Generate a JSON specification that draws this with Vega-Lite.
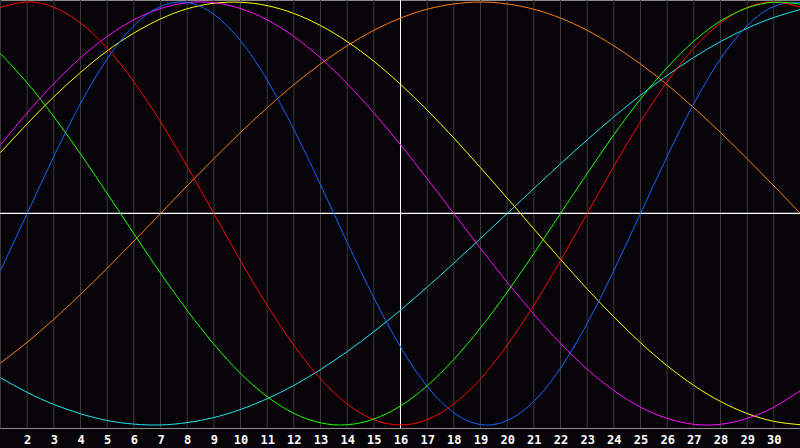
{
  "$schema": "https://vega.github.io/schema/vega-lite/v6.json",
  "width": 800,
  "height": 428,
  "autosize": "none",
  "padding": {"left": 0, "top": 0, "right": 0, "bottom": 20},
  "background": "#060409",
  "config": {
    "view": {"stroke": "#8c8c8c", "strokeWidth": 1, "fill": "#060409"}
  },
  "data": {
    "values": [
      {"d": 1, "physical": -0.270, "emotional": 0.975, "intellectual": 0.756, "intuitive": 0.325, "aesthetic": 0.288, "awareness": -0.707, "spiritual": -0.777},
      {"d": 2, "physical": 0.000, "emotional": 1.000, "intellectual": 0.618, "intuitive": 0.476, "aesthetic": 0.424, "awareness": -0.609, "spiritual": -0.846},
      {"d": 3, "physical": 0.270, "emotional": 0.975, "intellectual": 0.458, "intuitive": 0.614, "aesthetic": 0.552, "awareness": -0.500, "spiritual": -0.903},
      {"d": 4, "physical": 0.520, "emotional": 0.901, "intellectual": 0.282, "intuitive": 0.736, "aesthetic": 0.667, "awareness": -0.383, "spiritual": -0.947},
      {"d": 5, "physical": 0.731, "emotional": 0.782, "intellectual": 0.095, "intuitive": 0.837, "aesthetic": 0.769, "awareness": -0.259, "spiritual": -0.979},
      {"d": 6, "physical": 0.888, "emotional": 0.623, "intellectual": -0.095, "intuitive": 0.916, "aesthetic": 0.853, "awareness": -0.131, "spiritual": -0.996},
      {"d": 7, "physical": 0.979, "emotional": 0.434, "intellectual": -0.282, "intuitive": 0.969, "aesthetic": 0.920, "awareness": 0.000, "spiritual": -1.000},
      {"d": 8, "physical": 0.998, "emotional": 0.223, "intellectual": -0.458, "intuitive": 0.997, "aesthetic": 0.968, "awareness": 0.131, "spiritual": -0.989},
      {"d": 9, "physical": 0.942, "emotional": 0.000, "intellectual": -0.618, "intuitive": 0.997, "aesthetic": 0.994, "awareness": 0.259, "spiritual": -0.965},
      {"d": 10, "physical": 0.817, "emotional": -0.223, "intellectual": -0.756, "intuitive": 0.969, "aesthetic": 0.999, "awareness": 0.383, "spiritual": -0.927},
      {"d": 11, "physical": 0.631, "emotional": -0.434, "intellectual": -0.866, "intuitive": 0.916, "aesthetic": 0.983, "awareness": 0.500, "spiritual": -0.876},
      {"d": 12, "physical": 0.398, "emotional": -0.623, "intellectual": -0.945, "intuitive": 0.837, "aesthetic": 0.946, "awareness": 0.609, "spiritual": -0.813},
      {"d": 13, "physical": 0.136, "emotional": -0.782, "intellectual": -0.990, "intuitive": 0.736, "aesthetic": 0.889, "awareness": 0.707, "spiritual": -0.738},
      {"d": 14, "physical": -0.136, "emotional": -0.901, "intellectual": -0.999, "intuitive": 0.614, "aesthetic": 0.813, "awareness": 0.793, "spiritual": -0.653},
      {"d": 15, "physical": -0.398, "emotional": -0.975, "intellectual": -0.972, "intuitive": 0.476, "aesthetic": 0.720, "awareness": 0.866, "spiritual": -0.559},
      {"d": 16, "physical": -0.631, "emotional": -1.000, "intellectual": -0.910, "intuitive": 0.325, "aesthetic": 0.611, "awareness": 0.924, "spiritual": -0.457},
      {"d": 17, "physical": -0.817, "emotional": -0.975, "intellectual": -0.815, "intuitive": 0.165, "aesthetic": 0.489, "awareness": 0.966, "spiritual": -0.348},
      {"d": 18, "physical": -0.942, "emotional": -0.901, "intellectual": -0.690, "intuitive": 0.000, "aesthetic": 0.357, "awareness": 0.991, "spiritual": -0.235},
      {"d": 19, "physical": -0.998, "emotional": -0.782, "intellectual": -0.541, "intuitive": -0.165, "aesthetic": 0.217, "awareness": 1.000, "spiritual": -0.118},
      {"d": 20, "physical": -0.979, "emotional": -0.623, "intellectual": -0.372, "intuitive": -0.325, "aesthetic": 0.073, "awareness": 0.991, "spiritual": 0.000},
      {"d": 21, "physical": -0.888, "emotional": -0.434, "intellectual": -0.189, "intuitive": -0.476, "aesthetic": -0.073, "awareness": 0.966, "spiritual": 0.118},
      {"d": 22, "physical": -0.731, "emotional": -0.223, "intellectual": 0.000, "intuitive": -0.614, "aesthetic": -0.217, "awareness": 0.924, "spiritual": 0.235},
      {"d": 23, "physical": -0.520, "emotional": 0.000, "intellectual": 0.189, "intuitive": -0.736, "aesthetic": -0.357, "awareness": 0.866, "spiritual": 0.348},
      {"d": 24, "physical": -0.270, "emotional": 0.223, "intellectual": 0.372, "intuitive": -0.837, "aesthetic": -0.489, "awareness": 0.793, "spiritual": 0.457},
      {"d": 25, "physical": 0.000, "emotional": 0.434, "intellectual": 0.541, "intuitive": -0.916, "aesthetic": -0.611, "awareness": 0.707, "spiritual": 0.559},
      {"d": 26, "physical": 0.270, "emotional": 0.623, "intellectual": 0.690, "intuitive": -0.969, "aesthetic": -0.720, "awareness": 0.609, "spiritual": 0.653},
      {"d": 27, "physical": 0.520, "emotional": 0.782, "intellectual": 0.815, "intuitive": -0.997, "aesthetic": -0.813, "awareness": 0.500, "spiritual": 0.738},
      {"d": 28, "physical": 0.731, "emotional": 0.901, "intellectual": 0.910, "intuitive": -0.997, "aesthetic": -0.889, "awareness": 0.383, "spiritual": 0.813},
      {"d": 29, "physical": 0.888, "emotional": 0.975, "intellectual": 0.972, "intuitive": -0.969, "aesthetic": -0.946, "awareness": 0.259, "spiritual": 0.876},
      {"d": 30, "physical": 0.979, "emotional": 1.000, "intellectual": 0.999, "intuitive": -0.916, "aesthetic": -0.983, "awareness": 0.131, "spiritual": 0.927},
      {"d": 31, "physical": 0.998, "emotional": 0.975, "intellectual": 0.990, "intuitive": -0.837, "aesthetic": -0.999, "awareness": 0.000, "spiritual": 0.965}
    ]
  },
  "encoding": {
    "x": {
      "field": "d",
      "type": "quantitative",
      "scale": {"domain": [0.98125, 30.98125], "nice": false, "zero": false},
      "axis": {
        "values": [2, 3, 4, 5, 6, 7, 8, 9, 10, 11, 12, 13, 14, 15, 16, 17, 18, 19, 20, 21, 22, 23, 24, 25, 26, 27, 28, 29, 30],
        "title": null,
        "domain": false,
        "ticks": false,
        "grid": false,
        "labelColor": "#ffffff",
        "labelFont": "DejaVu Sans Mono",
        "labelFontWeight": "bold",
        "labelFontSize": 12,
        "labelPadding": 6,
        "labelFlush": false,
        "labelOverlap": false,
        "labelSeparation": 0
      }
    }
  },
  "layer": [
    {
      "mark": {"type": "rule", "color": "#3a3a3a", "strokeWidth": 1},
      "encoding": {}
    },
    {
      "mark": {"type": "rule", "color": "#ffffff", "strokeWidth": 1},
      "encoding": {
        "x": null,
        "y": {"datum": 0, "type": "quantitative", "scale": {"domain": [-1.0144, 1.0096], "nice": false, "zero": false}, "axis": null}
      }
    },
    {
      "transform": [{"filter": "datum.d == 16"}],
      "mark": {"type": "rule", "color": "#ffffff", "strokeWidth": 1},
      "encoding": {}
    },
    {
      "transform": [
        {"fold": ["spiritual", "awareness", "aesthetic", "intuitive", "physical", "emotional", "intellectual"], "as": ["cycle", "v"]}
      ],
      "mark": {"type": "line", "interpolate": "natural", "strokeWidth": 1, "clip": true},
      "encoding": {
        "y": {
          "field": "v",
          "type": "quantitative",
          "scale": {"domain": [-1.0144, 1.0096], "nice": false, "zero": false},
          "axis": null
        },
        "color": {
          "field": "cycle",
          "type": "nominal",
          "scale": {
            "domain": ["spiritual", "awareness", "aesthetic", "intuitive", "physical", "emotional", "intellectual"],
            "range": ["#22e4f0", "#ff8010", "#ffff00", "#ff10ff", "#1464ff", "#ff0000", "#22ff00"]
          },
          "legend": null
        }
      }
    }
  ]
}
